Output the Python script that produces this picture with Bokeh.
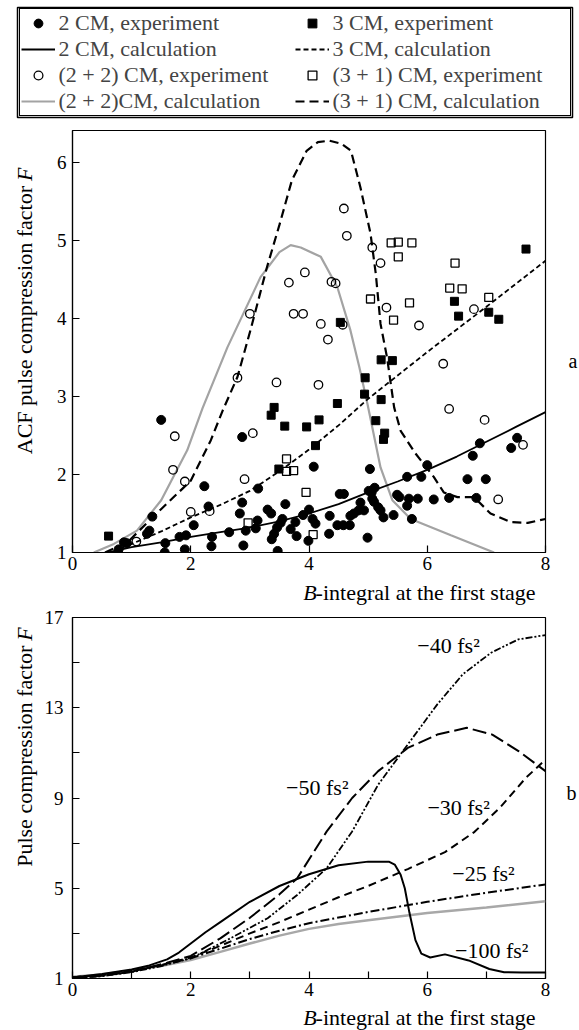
import math
from bokeh.plotting import figure
from bokeh.layouts import column, row
from bokeh.models import Legend, LegendItem, Label, FixedTicker, Range1d
from bokeh.embed import file_html
from bokeh.resources import INLINE

FONT = "Liberation Serif"

# ---------------- panel a: data ----------------
cm2_exp_x = [0.78, 0.87, 0.92, 1.26, 1.30, 1.35, 1.50, 1.56, 1.57, 1.81, 1.90, 1.92, 2.05, 2.23, 2.30,
             2.35, 2.36, 2.65, 2.83, 2.87, 2.87, 2.89, 2.93, 3.10, 3.13, 3.14, 3.30, 3.36, 3.37, 3.41,
             3.46, 3.47, 3.52, 3.55, 3.60, 3.69, 3.77, 3.79, 3.90, 3.99, 4.00, 4.06, 4.08, 4.11, 4.34,
             4.35, 4.48, 4.52, 4.58, 4.59, 4.69, 4.70, 4.76, 4.84, 4.87, 4.93, 4.99, 5.01, 5.03, 5.06,
             5.07, 5.10, 5.11, 5.17, 5.21, 5.26, 5.43, 5.49, 5.53, 5.66, 5.66, 5.69, 5.74, 5.84, 5.90,
             6.00, 6.11, 6.37, 6.68, 6.77, 6.83, 6.89, 6.99, 7.42, 7.52]
cm2_exp_y = [1.04, 1.13, 1.12, 1.24, 1.28, 1.46, 2.70, 1.00, 1.12, 1.20, 1.04, 1.22, 1.35, 1.85, 1.59,
             1.08, 1.20, 1.26, 1.50, 1.64, 2.48, 1.09, 1.28, 1.31, 1.41, 1.82, 1.55, 1.50, 1.17, 1.24,
             1.32, 1.02, 1.38, 1.43, 1.62, 1.30, 1.39, 1.21, 1.48, 1.15, 1.55, 1.43, 2.10, 1.37, 1.24,
             1.47, 1.35, 1.75, 1.35, 1.75, 1.35, 1.47, 1.50, 1.54, 1.64, 1.54, 1.19, 1.79, 2.07, 1.77,
             1.69, 1.65, 1.83, 1.58, 1.54, 1.45, 1.48, 1.74, 1.71, 1.60, 1.97, 1.69, 1.43, 1.69, 1.97,
             2.12, 1.68, 1.70, 1.94, 2.24, 1.70, 2.40, 1.94, 2.34, 2.47]

cm3_exp_x = [0.61, 3.36, 3.41, 3.49, 3.59, 3.96, 4.11, 4.17, 4.48, 4.53, 4.94, 4.95, 5.13, 5.22, 5.22,
             5.26, 5.28, 5.41, 6.46, 6.53, 7.04, 7.21, 7.67]
cm3_exp_y = [1.21, 2.76, 2.86, 2.07, 2.62, 2.61, 2.37, 2.70, 2.91, 3.95, 3.03, 3.24, 2.69, 2.96, 3.47,
             2.45, 2.53, 3.46, 4.22, 4.03, 4.08, 3.99, 4.89]

cm22_exp_x = [1.08, 1.70, 1.73, 1.90, 2.00, 2.32, 2.79, 2.91, 3.00, 3.05, 3.45, 3.66, 3.74, 3.90, 3.93,
              4.16, 4.20, 4.32, 4.38, 4.45, 4.57, 4.59, 4.64, 5.07, 5.21, 5.31, 5.86, 6.27, 6.37, 6.79,
              6.97, 7.20, 7.62]
cm22_exp_y = [1.14, 2.06, 2.49, 1.91, 1.52, 1.53, 3.24, 1.94, 4.06, 2.53, 3.18, 4.46, 4.06, 4.06, 4.59,
              3.15, 3.93, 3.73, 4.47, 4.45, 3.92, 5.41, 5.06, 4.91, 4.71, 4.14, 3.91, 3.42, 2.84, 4.12,
              2.70, 1.68, 2.38]

cm31_exp_x = [2.97, 3.62, 3.62, 3.74, 3.95, 4.07, 5.04, 5.39, 5.43, 5.51, 5.51, 5.70, 5.74, 6.38, 6.47,
              6.59, 7.04]
cm31_exp_y = [1.38, 2.20, 2.04, 2.05, 1.77, 1.23, 4.25, 4.97, 3.98, 4.98, 4.79, 4.20, 4.97, 4.39, 4.71,
              4.38, 4.27]

cm2_calc_x = [0.6, 1.0, 1.5, 2.0, 2.5, 3.0, 3.5, 4.0, 4.5, 5.0, 5.5, 6.0, 6.5, 7.0, 7.5, 8.0]
cm2_calc_y = [1.00, 1.07, 1.13, 1.20, 1.26, 1.32, 1.40, 1.50, 1.62, 1.77, 1.91, 2.06, 2.23, 2.42, 2.61, 2.80]

cm3_calc_x = [0.7, 1.0, 1.5, 2.0, 2.5, 3.0, 3.5, 4.0, 4.5, 5.0, 6.0, 7.0, 8.0]
cm3_calc_y = [1.02, 1.11, 1.27, 1.45, 1.61, 1.79, 2.04, 2.32, 2.63, 2.97, 3.57, 4.15, 4.74]

cm22_calc_x = [0.36, 0.70, 1.09, 1.50, 1.94, 2.20, 2.62, 3.18, 3.50, 3.69, 3.86, 4.20, 4.48, 4.70, 4.85,
               4.99, 5.21, 5.41, 5.72, 6.40, 7.13]
cm22_calc_y = [1.00, 1.11, 1.28, 1.67, 2.31, 2.85, 3.63, 4.53, 4.85, 4.94, 4.91, 4.79, 4.40, 3.85, 3.38,
               2.90, 2.09, 1.67, 1.43, 1.22, 1.00]

cm31_calc_x = [0.55, 0.93, 1.38, 2.00, 2.34, 2.54, 2.79, 3.01, 3.29, 3.50, 3.71, 3.96, 4.15, 4.34, 4.55,
               4.71, 4.87, 5.04, 5.13, 5.21, 5.32, 5.44, 5.55, 5.80, 6.11, 6.28, 6.51, 6.79, 7.07, 7.41,
               7.70, 8.00]
cm31_calc_y = [1.00, 1.13, 1.47, 1.92, 2.44, 2.82, 3.25, 3.85, 4.66, 5.20, 5.77, 6.15, 6.26, 6.28, 6.24,
               6.15, 5.68, 5.09, 4.57, 3.93, 3.50, 2.86, 2.56, 2.27, 1.97, 1.77, 1.71, 1.71, 1.50, 1.39,
               1.38, 1.43]

legend_labels = ["2 CM, experiment", "2 CM, calculation", "(2 + 2) CM, experiment", "(2 + 2)CM, calculation",
                 "3 CM, experiment", "3 CM, calculation", "(3 + 1) CM, experiment", "(3 + 1) CM, calculation"]

a_xticks = [0, 2, 4, 6, 8]
a_yticks = [1, 2, 3, 4, 5, 6]

# ---------------- panel b: data ----------------
gd100_x = [0.0, 0.5, 1.0, 1.3, 1.6, 1.8, 2.0, 2.25, 2.5, 3.0, 3.5, 4.0, 4.5, 5.0, 5.35, 5.45, 5.55, 5.62,
           5.70, 5.80, 5.90, 6.05, 6.30, 6.70, 7.05, 7.30, 7.60, 8.00]
gd100_y = [1.05, 1.20, 1.40, 1.58, 1.85, 2.15, 2.55, 3.05, 3.50, 4.40, 5.10, 5.62, 6.02, 6.18, 6.18, 6.05,
           5.60, 5.00, 3.90, 2.70, 2.10, 1.93, 2.07, 1.80, 1.42, 1.28, 1.27, 1.27]

gd50_x = [0.0, 0.5, 1.0, 1.6, 2.0, 2.5, 3.0, 3.5, 3.8, 4.3, 4.73, 5.17, 5.67, 6.17, 6.67, 7.10, 7.55, 8.00]
gd50_y = [1.00, 1.12, 1.30, 1.70, 2.00, 2.78, 3.69, 4.73, 5.44, 7.52, 9.00, 10.19, 11.22, 11.81, 12.11,
          11.81, 11.07, 10.19]

gd40_x = [0.0, 0.5, 1.0, 1.5, 2.0, 2.67, 3.3, 3.8, 4.3, 4.73, 5.17, 5.67, 6.17, 6.60, 7.08, 7.54, 8.00]
gd40_y = [1.00, 1.10, 1.28, 1.55, 1.89, 2.78, 3.67, 4.70, 5.89, 7.52, 9.59, 11.37, 13.15, 14.48, 15.44,
          16.03, 16.22]

gd30_x = [0.0, 0.5, 1.0, 1.5, 2.0, 2.5, 3.0, 3.5, 4.0, 4.5, 5.0, 5.67, 6.3, 6.8, 7.24, 7.67, 8.0]
gd30_y = [1.05, 1.15, 1.33, 1.60, 1.93, 2.45, 3.00, 3.50, 4.05, 4.60, 5.10, 5.85, 6.60, 7.50, 8.60,
          9.90, 10.70]

gd25_x = [0.0, 0.5, 1.0, 1.5, 2.0, 2.5, 3.0, 3.5, 4.0, 5.0, 6.0, 7.0, 8.0]
gd25_y = [1.05, 1.16, 1.33, 1.58, 1.90, 2.32, 2.75, 3.12, 3.45, 3.95, 4.40, 4.80, 5.17]

gray_x = [0.0, 0.5, 1.0, 1.5, 2.0, 2.5, 3.0, 3.5, 4.0, 4.5, 5.0, 6.0, 7.0, 8.0]
gray_y = [1.08, 1.18, 1.35, 1.55, 1.82, 2.18, 2.55, 2.90, 3.20, 3.42, 3.58, 3.90, 4.15, 4.42]

curve_labels = ["\u221240 fs\u00b2", "\u221250 fs\u00b2", "\u221230 fs\u00b2", "\u221225 fs\u00b2", "\u2212100 fs\u00b2"]
curve_label_x = [6.36, 4.14, 6.53, 6.95, 7.09]
curve_label_y = [15.76, 9.47, 8.58, 5.65, 2.24]

b_xticks = [0, 2, 4, 6, 8]
b_xminor = [1, 3, 5, 7]
b_yticks = [1, 5, 9, 13, 17]
b_yminor = [3, 7, 11, 15]

x_title_italic = "B"
x_title_rest = "-integral at the first stage"
a_ytitle = "ACF pulse compression factor"
b_ytitle = "Pulse compression factor"
ytitle_italic = "F"

# ---------------- helpers ----------------
def style(p, xt, xm, yt, ym, ystand):
    p.grid.visible = False
    p.outline_line_color = "black"
    p.outline_line_width = 1.2
    p.background_fill_color = "white"
    p.border_fill_color = "white"
    p.xaxis.ticker = FixedTicker(ticks=xt, minor_ticks=xm)
    p.yaxis.ticker = FixedTicker(ticks=yt, minor_ticks=ym)
    for ax in list(p.xaxis) + list(p.yaxis):
        ax.axis_line_color = "black"
        ax.axis_line_width = 1.2
        ax.major_tick_line_color = "black"
        ax.minor_tick_line_color = "black"
        ax.major_tick_line_width = 1.2
        ax.minor_tick_line_width = 1.2
        ax.major_tick_in = 7
        ax.major_tick_out = 0
        ax.minor_tick_in = 7
        ax.minor_tick_out = 0
        ax.major_label_text_font = FONT
        ax.major_label_text_font_size = "19px"
        ax.major_label_text_color = "black"
    p.xaxis.major_label_standoff = 4
    p.yaxis.major_label_standoff = ystand


def strip(w, h, outline=None, **kw):
    s = figure(width=w, height=h, x_range=Range1d(0, w), y_range=Range1d(0, h),
               x_axis_type=None, y_axis_type=None, output_backend="svg",
               toolbar_location=None, outline_line_color=outline, **kw)
    s.grid.visible = False
    s.background_fill_color = "white"
    s.border_fill_color = "white"
    return s


def add_label(p, x, y, text, size="22px", style_="normal", align="left", angle=0.0, baseline="middle"):
    p.add_layout(Label(x=x, y=y, text=text, text_font=FONT, text_font_size=size,
                       text_font_style=style_, text_align=align, text_baseline=baseline,
                       angle=angle, text_color="black"))

# ---------------- legend strip ----------------
LEG_H = 124
leg = strip(579, LEG_H, outline="black", outline_line_width=1.5, outline_line_alpha=1.0,
            min_border_left=17, min_border_right=7, min_border_top=7, min_border_bottom=7)
# legend sample renderers (hidden; they only lend their styles to the legend)
l2e = leg.scatter(cm2_exp_x, cm2_exp_y, marker="circle", size=9, fill_color="black", line_color="black")
l2c = leg.line(cm2_calc_x, cm2_calc_y, line_color="black", line_width=1.8)
l22e = leg.scatter(cm22_exp_x, cm22_exp_y, marker="circle", size=8.5, fill_color=None,
                   line_color="black", line_width=1.3)
l22c = leg.line(cm22_calc_x, cm22_calc_y, line_color="#a3a3a3", line_width=2.2)
l3e = leg.scatter(cm3_exp_x, cm3_exp_y, marker="square", size=8, fill_color="black", line_color="black")
l3c = leg.line(cm3_calc_x, cm3_calc_y, line_color="black", line_width=1.8, line_dash="5 3")
l31e = leg.scatter(cm31_exp_x, cm31_exp_y, marker="square", size=8, fill_color=None,
                   line_color="black", line_width=1.3)
l31c = leg.line(cm31_calc_x, cm31_calc_y, line_color="black", line_width=2.2, line_dash="9 5")
rends = [l2e, l2c, l22e, l22c, l3e, l3c, l31e, l31c]
for r in rends:
    r.visible = False
legend = Legend(items=[LegendItem(label=l, renderers=[r]) for l, r in zip(legend_labels, rends)],
                ncols=2, location="center", label_text_font=FONT, label_text_font_size="22px",
                glyph_width=34, glyph_height=22, label_height=22, label_width=236, label_standoff=4,
                spacing=0, padding=1, margin=0, border_line_color="black", border_line_alpha=1.0,
                border_line_width=1.5,
                background_fill_alpha=0.0, inactive_fill_alpha=0.0)
leg.add_layout(legend, "center")

# ---------------- panel a ----------------
ROW_A_H = 456
LEFT_W, RIGHT_W = 40, 14
PLOT_W = 579 - LEFT_W - RIGHT_W
p1 = figure(width=PLOT_W, height=ROW_A_H, x_range=Range1d(0, 8), y_range=Range1d(1.0, 6.41),
            output_backend="svg", toolbar_location=None,
            min_border_left=32, min_border_right=20, min_border_top=6, min_border_bottom=28)
style(p1, a_xticks, [], a_yticks, [], 6)

p1.line(cm22_calc_x, cm22_calc_y, line_color="#a3a3a3", line_width=2.2)
p1.line(cm31_calc_x, cm31_calc_y, line_color="black", line_width=2.2, line_dash="9 5")
p1.line(cm3_calc_x, cm3_calc_y, line_color="black", line_width=1.8, line_dash="5 3")
p1.line(cm2_calc_x, cm2_calc_y, line_color="black", line_width=1.8)
p1.scatter(cm2_exp_x, cm2_exp_y, marker="circle", size=9, fill_color="black", line_color="black")
p1.scatter(cm3_exp_x, cm3_exp_y, marker="square", size=8, fill_color="black", line_color="black")
p1.scatter(cm22_exp_x, cm22_exp_y, marker="circle", size=8.5, fill_color=None,
           line_color="black", line_width=1.3)
p1.scatter(cm31_exp_x, cm31_exp_y, marker="square", size=8, fill_color=None,
           line_color="black", line_width=1.3)

left_a = strip(LEFT_W, ROW_A_H, min_border=0)
add_label(left_a, 24, ROW_A_H - 60, a_ytitle, align="right", angle=math.pi / 2)
add_label(left_a, 24, ROW_A_H - 54.5, ytitle_italic, style_="italic", align="left", angle=math.pi / 2)
right_a = strip(RIGHT_W, ROW_A_H, min_border=0)
add_label(right_a, 3, ROW_A_H - 249, "a", size="20px")

XT_H = 26
xt_a = strip(579, XT_H, min_border=0)
add_label(xt_a, 298, 14, x_title_italic, style_="italic")
add_label(xt_a, 311, 14, x_title_rest)

# ---------------- panel b ----------------
ROW_B_H = 398
p2 = figure(width=PLOT_W, height=ROW_B_H, x_range=Range1d(0, 8), y_range=Range1d(1.0, 17.0),
            output_backend="svg", toolbar_location=None,
            min_border_left=32, min_border_right=20, min_border_top=11, min_border_bottom=26)
style(p2, b_xticks, b_xminor, b_yticks, b_yminor, 9)

p2.line(gray_x, gray_y, line_color="#a8a8a8", line_width=2.5)
p2.line(gd25_x, gd25_y, line_color="black", line_width=2.0, line_dash="9 3 2 3")
p2.line(gd30_x, gd30_y, line_color="black", line_width=2.0, line_dash="8 5")
p2.line(gd40_x, gd40_y, line_color="black", line_width=1.8, line_dash="7 2 2 2 2 2")
p2.line(gd50_x, gd50_y, line_color="black", line_width=2.0, line_dash="14 5")
p2.line(gd100_x, gd100_y, line_color="black", line_width=2.0)

for t, lx, ly in zip(curve_labels, curve_label_x, curve_label_y):
    add_label(p2, lx, ly, t, align="center")

left_b = strip(LEFT_W, ROW_B_H, min_border=0)
add_label(left_b, 24, ROW_B_H - 31, b_ytitle, align="right", angle=math.pi / 2)
add_label(left_b, 24, ROW_B_H - 25.5, ytitle_italic, style_="italic", align="left", angle=math.pi / 2)
right_b = strip(RIGHT_W, ROW_B_H, min_border=0)
add_label(right_b, 1, ROW_B_H - 194, "b", size="20px")

xt_b = strip(579, XT_H, min_border=0)
add_label(xt_b, 298, 13, x_title_italic, style_="italic")
add_label(xt_b, 311, 13, x_title_rest)

layout = column(leg, row(left_a, p1, right_a, spacing=0), xt_a,
                row(left_b, p2, right_b, spacing=0), xt_b, spacing=0)
open("out.html", "w").write(file_html(layout, INLINE))
